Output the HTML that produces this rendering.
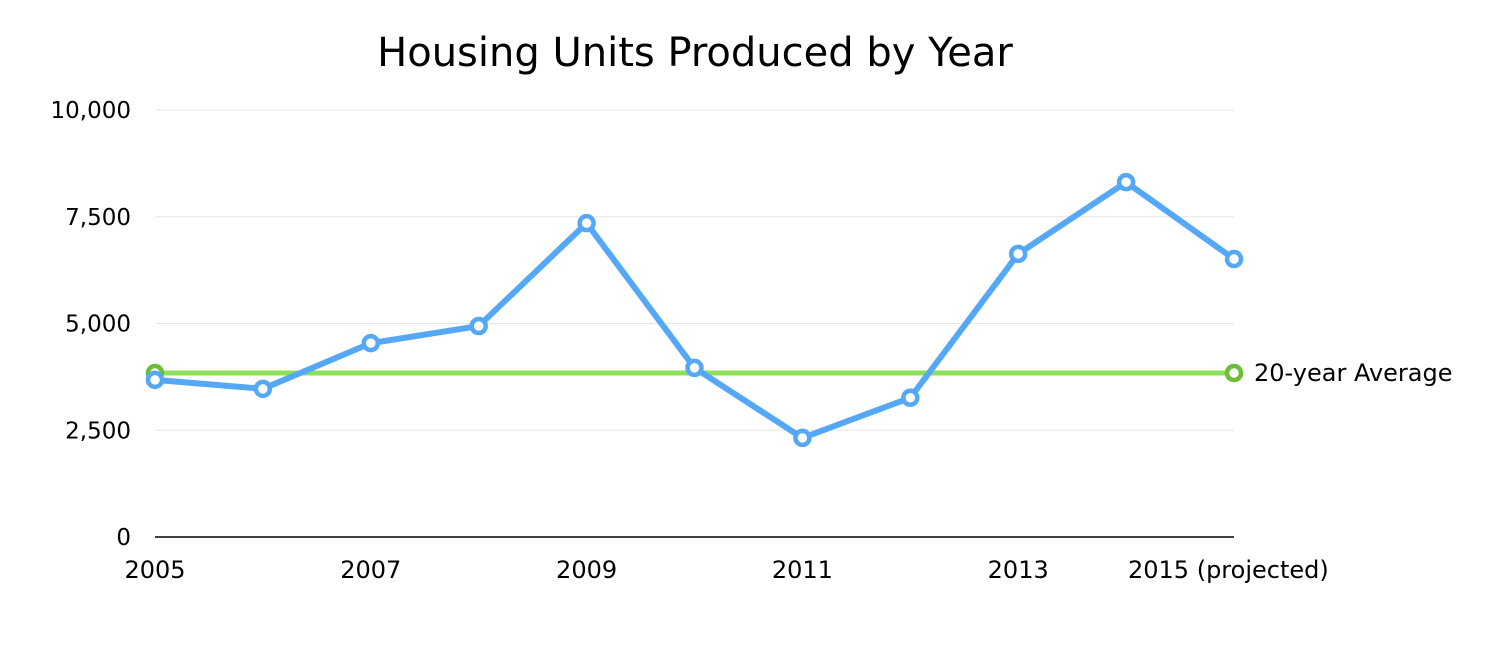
<!DOCTYPE html>
<html><head><meta charset="utf-8"><style>
body{margin:0;background:#fff;}
svg{display:block;font-family:"DejaVu Sans","Liberation Sans",sans-serif;}
</style></head><body>
<svg id="chart" width="1500" height="650"></svg>
<script>
const years = ["2005","2006","2007","2008","2009","2010","2011","2012","2013","2014","2015 (projected)"];
const tickLabels = ["2005","","2007","","2009","","2011","","2013","","2015 (projected)"];
const units = [3680,3470,4540,4940,7350,3960,2320,3260,6630,8310,6510];
const average = [3840];
const yTicks = [0,2500,5000,7500,10000];
const yTickText = ["0","2,500","5,000","7,500","10,000"];

const NS="http://www.w3.org/2000/svg";
const svg=document.getElementById('chart');
const x0=155,x1=1234,yb=537,yt=110,ymax=10000;
const xs=i=>x0+(x1-x0)*i/(years.length-1);
const ys=v=>yb-(yb-yt)*v/ymax;
function mk(t,a,p){const e=document.createElementNS(NS,t);for(const k in a)e.setAttribute(k,a[k]);(p||svg).appendChild(e);return e;}

const title=mk('text',{x:695,y:66,'text-anchor':'middle','font-size':40,fill:'#000'});


title.textContent="Housing Units Produced by Year";

yTicks.forEach((v,i)=>{
  if(v>0){const g=mk('line',{x1:x0,x2:x1,y1:ys(v),y2:ys(v),stroke:'#e6e6e6','stroke-width':1});
  
  }
  const t=mk('text',{x:131,y:ys(v)+8,'text-anchor':'end','font-size':23,fill:'#000'});
  
  
  t.textContent=yTickText[i];
});
const ax=mk('line',{x1:x0,x2:x1,y1:yb,y2:yb,stroke:'#000','stroke-width':1.5});



tickLabels.forEach((l,i)=>{
  if(!l)return;
  const t=mk('text',{x:xs(i),y:578,'text-anchor':'middle','font-size':24,fill:'#000'});
  
  
  t.textContent=l;
  if(i===years.length-1){t.setAttribute('text-anchor','start');t.setAttribute('x',xs(i)-106);}
});

const avgLine=mk('line',{x1:x0,x2:x1,y1:ys(average[0]),y2:ys(average[0]),stroke:'#8ee05a','stroke-width':5});


[x0,x1].forEach(x=>{
  const c=mk('circle',{cx:x,cy:ys(average[0]),r:7,fill:'#fff',stroke:'#6cbd3a','stroke-width':4.5});
  
  
});
const al=mk('text',{x:1254,y:ys(average[0])+8,'font-size':24,fill:'#000'});


al.textContent="20-year Average";

const pl=mk('polyline',{points:units.map((v,i)=>xs(i)+','+ys(v)).join(' '),fill:'none',stroke:'#55a8f5','stroke-width':6,'stroke-linejoin':'round'});


units.forEach((v,i)=>{
  const c=mk('circle',{cx:xs(i),cy:ys(v),r:7,fill:'#fff',stroke:'#55a8f5','stroke-width':4.5});
  
  
});
</script>
</body></html>
